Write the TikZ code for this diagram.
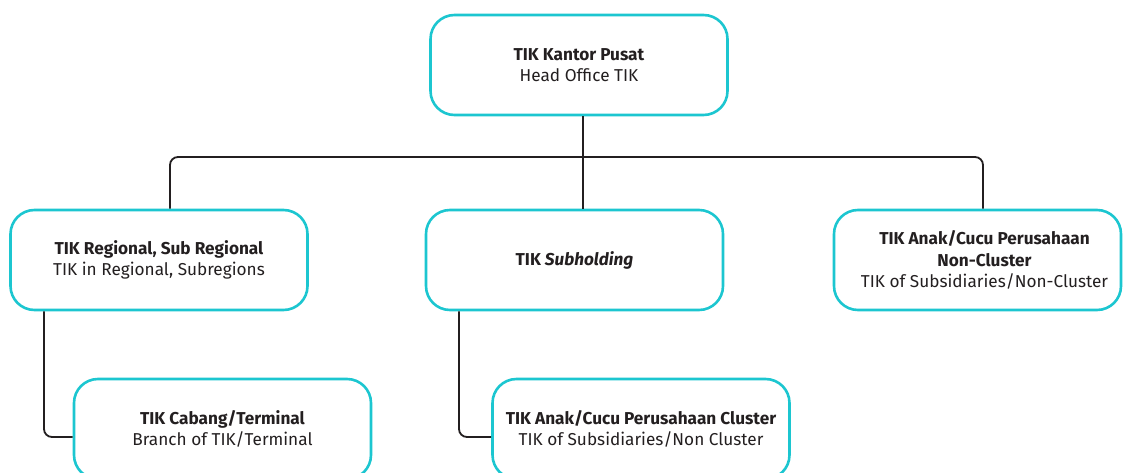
\documentclass[tikz,border=0pt]{standalone}
\usepackage{fontspec}
\setmainfont{Fira Sans}
\definecolor{boxcyan}{HTML}{1CC6D0}
\definecolor{ink}{HTML}{231F20}
\newcommand{\myrgtpad}{\hspace*{14pt}}
\begin{document}
\begin{tikzpicture}[x=1pt,y=1pt,
  box/.style={draw=boxcyan, line width=2.6pt, rounded corners=24pt, fill=white,
    minimum width=297pt, minimum height=100pt, align=center, text=ink,
    font=\fontsize{17.2}{21.5}\selectfont, inner sep=0pt},
  conn/.style={draw=ink, line width=1.8pt, rounded corners=8pt}]
\useasboundingbox (0,0) rectangle (1123,472);
\clip (0,0) rectangle (1123,472);
\node[box] (top) at (579,407) {\textbf{TIK Kantor Pusat}\\Head Office TIK};
\node[box] (reg) at (159,212) {\textbf{TIK Regional, Sub Regional}\\TIK in Regional, Subregions};
\node[box] (sub) at (574.5,212) {\textbf{TIK \textit{Subholding}}};
\node[box, minimum width=287pt] (rgt) at (977.5,212) {\myrgtpad\textbf{TIK Anak/Cucu Perusahaan}\\\myrgtpad\textbf{Non-Cluster}\\\myrgtpad TIK of Subsidiaries/Non-Cluster};
\node[box] (bl) at (222.5,43) {\textbf{TIK Cabang/Terminal}\\Branch of TIK/Terminal};
\node[box] (bm) at (641,43) {\textbf{TIK Anak/Cucu Perusahaan Cluster}\\TIK of Subsidiaries/Non Cluster};
\coordinate (bus) at (583,315);
\draw[conn] (top.south -| bus) -- (sub.north -| bus);
\draw[conn] ([xshift=11pt]reg.north) |- (bus) -| ([xshift=5.5pt]rgt.north);
\draw[conn] ([xshift=-115pt]reg.south) |- ([yshift=-8pt]bl.west);
\draw[conn] ([xshift=-115.5pt]sub.south) |- ([yshift=-8pt]bm.west);
\end{tikzpicture}
\end{document}
